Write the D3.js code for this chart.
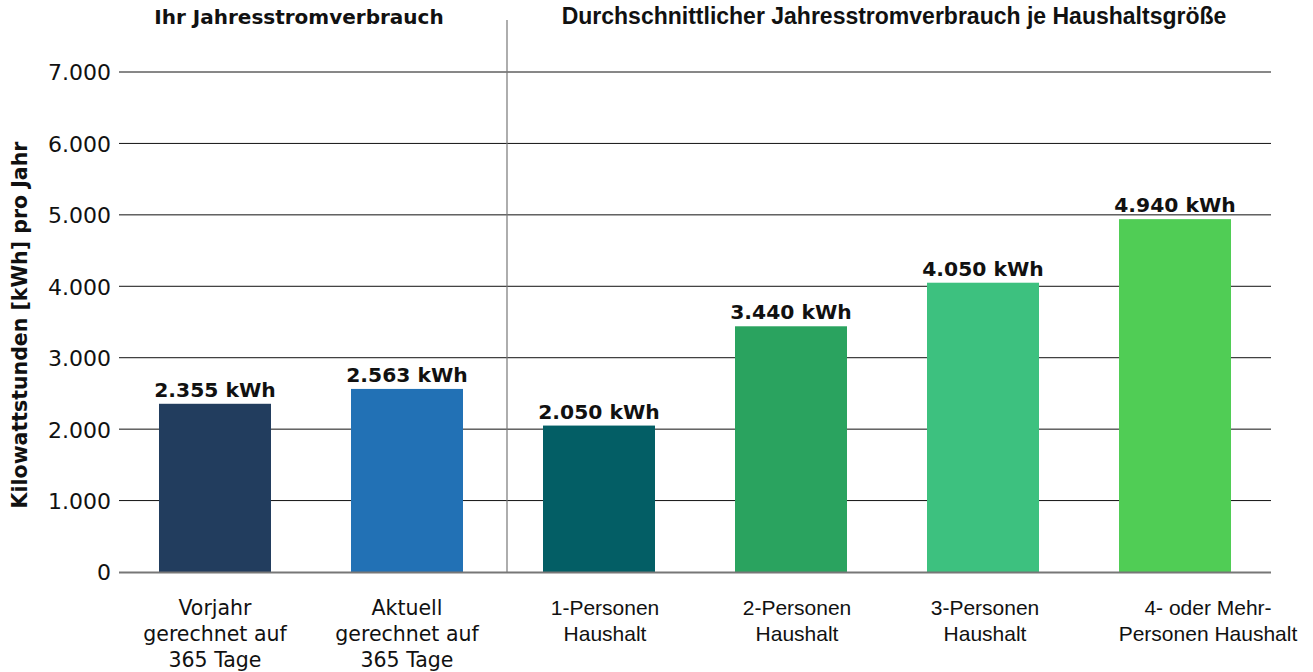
<!DOCTYPE html>
<html>
<head>
<meta charset="utf-8">
<script src="https://cdn.jsdelivr.net/npm/d3@7"></script>
<style>
body{margin:0;background:#fff;}
svg{display:block;}
</style>
</head>
<body>
<div id="container"></div>
<script>
///data
const categories = ["vorjahr", "aktuell", "p1", "p2", "p3", "p4"];
const catLabels = [
  ["Vorjahr", "gerechnet auf", "365 Tage"],
  ["Aktuell", "gerechnet auf", "365 Tage"],
  ["1-Personen", "Haushalt"],
  ["2-Personen", "Haushalt"],
  ["3-Personen", "Haushalt"],
  ["4- oder Mehr-", "Personen Haushalt"]
];
const values = [2355, 2563, 2050, 3440, 4050, 4940];
const valueLabels = ["2.355 kWh", "2.563 kWh", "2.050 kWh", "3.440 kWh", "4.050 kWh", "4.940 kWh"];
const barColors = ["#223d5e", "#2271b5", "#035e65", "#2aa35f", "#3dc17f", "#50cd55"];
const yTicks = [0, 1000, 2000, 3000, 4000, 5000, 6000, 7000];
const yTickLabels = ["0", "1.000", "2.000", "3.000", "4.000", "5.000", "6.000", "7.000"];
const sectionTitles = ["Ihr Jahresstromverbrauch", "Durchschnittlicher Jahresstromverbrauch je Haushaltsgröße"];

///vars
const w = 1313, h = 672;
const mLeft = 119, mRight = 1271, mTop = 72, mBottom = 572;
const wideFont = "'DejaVu Sans', sans-serif";
const narrowFont = "'Liberation Sans Narrow', 'Liberation Sans', sans-serif";
// small horizontal nudges of the category labels, like in the original
const labelShift = [0, 0, 6, 6, 2, 33];

const svg = d3.select("#container").append("svg")
  .attr("width", w).attr("height", h);

const x = d3.scaleBand().domain(categories).range([mLeft, mRight])
  .paddingInner(0.4167).paddingOuter(0.2083);
const y = d3.scaleLinear().domain([0, 7000]).range([mBottom, mTop]);

///grid
svg.append("g").selectAll("line")
  .data(yTicks.filter(d => d > 0))
  .join("line")
  .attr("x1", mLeft).attr("x2", mRight)
  .attr("y1", d => y(d)).attr("y2", d => y(d))
  .attr("stroke", "#111").attr("stroke-width", 1);

///y axis labels
const yAxis = d3.axisLeft(y).tickValues(yTicks)
  .tickFormat((d, i) => yTickLabels[i]).tickSize(0).tickPadding(8);
const yg = svg.append("g").attr("transform", `translate(${mLeft},0)`).call(yAxis);
yg.select(".domain").remove();
yg.selectAll("text").attr("font-family", wideFont).attr("font-size", 22)
  .attr("fill", "#111").attr("dy", "0.36em");

///y title
svg.append("text")
  .attr("transform", `translate(27,${(mTop + mBottom) / 2 + 3}) rotate(-90)`)
  .attr("text-anchor", "middle")
  .attr("font-family", wideFont).attr("font-weight", "bold").attr("font-size", 20.5)
  .attr("fill", "#111")
  .text("Kilowattstunden [kWh] pro Jahr");

///bars
svg.append("g").selectAll("rect")
  .data(values)
  .join("rect")
  .attr("x", (d, i) => x(categories[i]))
  .attr("width", x.bandwidth())
  .attr("y", d => y(d))
  .attr("height", d => y(0) - y(d))
  .attr("fill", (d, i) => barColors[i]);

///baseline
svg.append("line")
  .attr("x1", mLeft).attr("x2", mRight)
  .attr("y1", y(0) + 0.5).attr("y2", y(0) + 0.5)
  .attr("stroke", "#777").attr("stroke-width", 2);

///divider
const divX = (x(categories[1]) + x.bandwidth() + x(categories[2])) / 2 + 4;
svg.append("line")
  .attr("x1", divX).attr("x2", divX)
  .attr("y1", 20).attr("y2", y(0))
  .attr("stroke", "#777").attr("stroke-width", 1.2);

///value labels
svg.append("g").selectAll("text")
  .data(values)
  .join("text")
  .attr("x", (d, i) => x(categories[i]) + x.bandwidth() / 2)
  .attr("y", d => y(d) - 7)
  .attr("text-anchor", "middle")
  .attr("font-family", wideFont).attr("font-weight", "bold").attr("font-size", 20.3)
  .attr("fill", "#111")
  .text((d, i) => valueLabels[i]);

///category labels
const cl = svg.append("g").selectAll("text")
  .data(catLabels)
  .join("text")
  .attr("x", (d, i) => x(categories[i]) + x.bandwidth() / 2 + labelShift[i])
  .attr("y", 615)
  .attr("text-anchor", "middle")
  .attr("font-family", (d, i) => i < 2 ? wideFont : narrowFont)
  .attr("font-size", (d, i) => i < 2 ? 20.5 : 21)
  .attr("fill", "#111");
cl.selectAll("tspan")
  .data(d => d)
  .join("tspan")
  .attr("x", function () { return d3.select(this.parentNode).attr("x"); })
  .attr("dy", (d, i) => i === 0 ? 0 : 26)
  .text(d => d);

///section titles
svg.append("text")
  .attr("x", (mLeft + divX) / 2 - 14).attr("y", 24)
  .attr("text-anchor", "middle")
  .attr("font-family", wideFont).attr("font-weight", "bold").attr("font-size", 20)
  .attr("fill", "#111").text(sectionTitles[0]);
svg.append("text")
  .attr("x", (divX + mRight) / 2 + 5).attr("y", 24)
  .attr("text-anchor", "middle")
  .attr("font-family", narrowFont).attr("font-weight", "bold").attr("font-size", 23)
  .attr("fill", "#111").text(sectionTitles[1]);
</script>
</body>
</html>
